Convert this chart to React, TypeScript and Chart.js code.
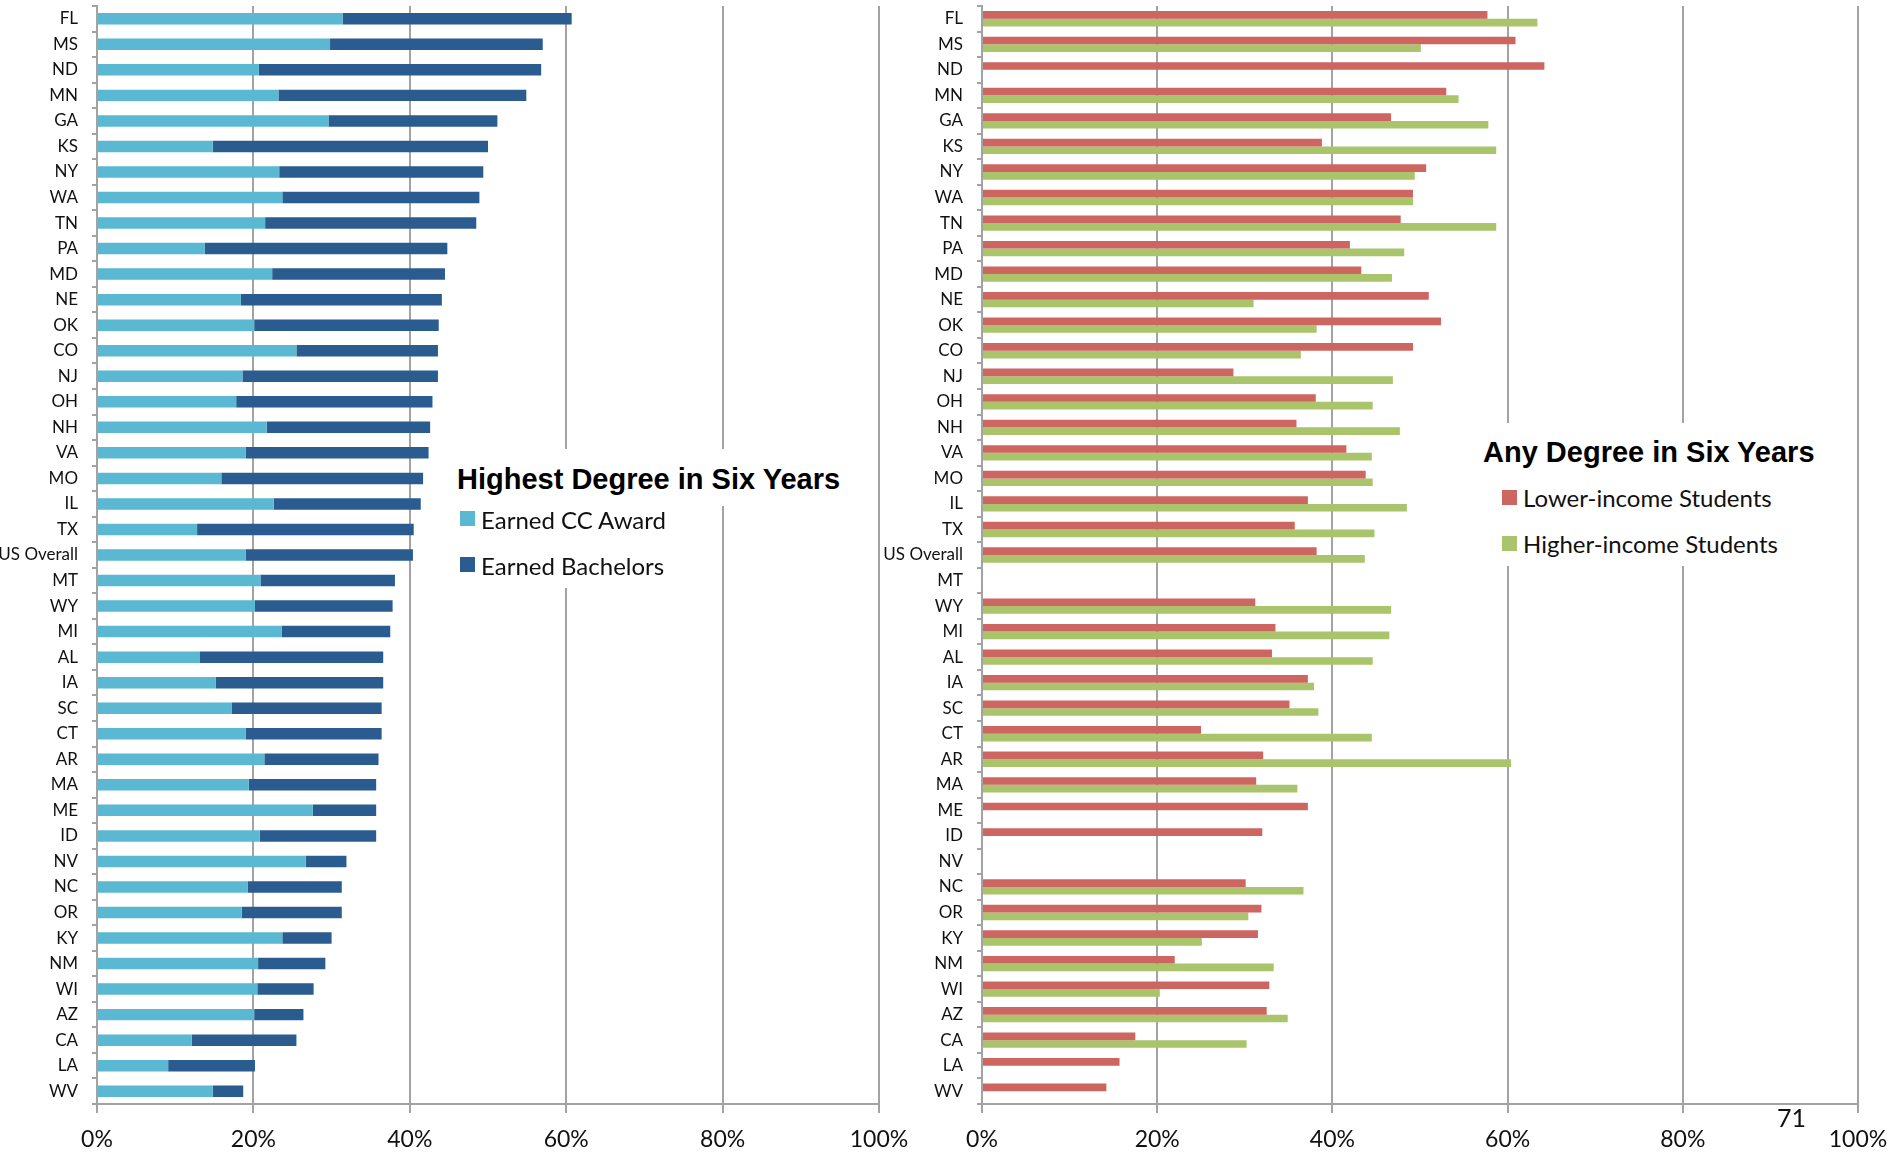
import React, { useEffect, useRef } from "react";
import { Chart, registerables } from "chart.js";

Chart.register(...registerables);

const states = ["FL","MS","ND","MN","GA","KS","NY","WA","TN","PA","MD","NE","OK","CO","NJ","OH","NH","VA","MO","IL","TX","US Overall","MT","WY","MI","AL","IA","SC","CT","AR","MA","ME","ID","NV","NC","OR","KY","NM","WI","AZ","CA","LA","WV"];

const ccAward = [31.4,29.8,20.7,23.2,29.6,14.8,23.3,23.7,21.5,13.8,22.4,18.4,20.1,25.5,18.6,17.8,21.7,19.0,15.9,22.6,12.8,19.0,20.9,20.2,23.6,13.1,15.2,17.2,19.0,21.4,19.4,27.6,20.8,26.7,19.3,18.5,23.7,20.6,20.5,20.1,12.1,9.1,14.8];

const bachelors = [29.3,27.2,36.1,31.7,21.6,35.2,26.1,25.2,27.0,31.0,22.1,25.7,23.6,18.1,25.0,25.1,20.9,23.4,25.8,18.8,27.7,21.4,17.2,17.6,13.9,23.5,21.4,19.2,17.4,14.6,16.3,8.1,14.9,5.2,12.0,12.8,6.3,8.6,7.2,6.3,13.4,11.1,3.9];

const lowerIncome = [57.7,60.9,64.2,53.0,46.7,38.8,50.7,49.2,47.8,42.0,43.3,51.0,52.4,49.2,28.7,38.1,35.9,41.6,43.8,37.2,35.7,38.2,null,31.2,33.5,33.1,37.2,35.1,25.0,32.1,31.3,37.2,32.0,null,30.1,31.9,31.5,22.0,32.8,32.5,17.5,15.7,14.2];

const higherIncome = [63.4,50.1,null,54.4,57.8,58.7,49.4,49.2,58.7,48.2,46.8,31.0,38.2,36.4,46.9,44.6,47.7,44.5,44.6,48.5,44.8,43.7,null,46.7,46.5,44.6,37.9,38.4,44.5,60.4,36.0,null,null,null,36.7,30.4,25.1,33.3,20.3,34.9,30.2,null,null];

const xMin = 0;
const xMax = 100;
const xStep = 20;

const leftTitle = "Highest Degree in Six Years";
const leftSeries = ["Earned CC Award", "Earned Bachelors"];
const rightTitle = "Any Degree in Six Years";
const rightSeries = ["Lower-income Students", "Higher-income Students"];
const pageNumber = "71";

const COL_CC = "#5BB8D2";
const COL_BA = "#2A5C8F";
const COL_LO = "#CD6661";
const COL_HI = "#A9C46A";
const GRID = "#A3A3A3";

function baseOptions(yWidth: number, padRight: number, stacked: boolean) {
  return {
    indexAxis: "y" as const,
    responsive: false,
    animation: false as const,
    layout: { padding: { top: 6, right: padRight, left: 0, bottom: 0 } },
    plugins: { legend: { display: false }, tooltip: { enabled: false }, title: { display: false } },
    scales: {
      x: {
        type: "linear" as const,
        min: xMin,
        max: xMax,
        stacked,
        position: "bottom" as const,
        ticks: {
          stepSize: xStep,
          padding: 13,
          color: "#111",
          font: { family: "Lato", size: 23 },
          callback: (v: any) => v + "%",
        },
        grid: { color: GRID, lineWidth: 2, tickLength: 9, drawTicks: true },
        border: { display: true, color: GRID, width: 2 },
        afterFit: (s: any) => {
          s.height = 48;
          s.paddingLeft = 0;
          s.paddingRight = 0;
        },
      },
      y: {
        type: "category" as const,
        stacked,
        ticks: {
          padding: 14,
          color: "#111",
          autoSkip: false,
          font: { family: "Lato", size: 17 },
        },
        grid: { display: true, drawOnChartArea: false, drawTicks: true, tickLength: 5, offset: true, color: GRID, lineWidth: 2 },
        border: { display: true, color: GRID, width: 2 },
        afterFit: (s: any) => {
          s.width = yWidth;
          s.paddingTop = 0;
          s.paddingBottom = 0;
        },
      },
    },
  };
}

export default function App() {
  const leftRef = useRef<HTMLCanvasElement | null>(null);
  const rightRef = useRef<HTMLCanvasElement | null>(null);

  useEffect(() => {
    document.body.style.margin = "0";
    const left = new Chart(leftRef.current as HTMLCanvasElement, {
      type: "bar",
      data: {
        labels: states,
        datasets: [
          { label: leftSeries[0], data: ccAward, backgroundColor: COL_CC, borderWidth: 0, categoryPercentage: 1, barPercentage: 0.45 },
          { label: leftSeries[1], data: bachelors, backgroundColor: COL_BA, borderWidth: 0, categoryPercentage: 1, barPercentage: 0.45 },
        ],
      },
      options: baseOptions(97, 66, true) as any,
    });
    const right = new Chart(rightRef.current as HTMLCanvasElement, {
      type: "bar",
      data: {
        labels: states,
        datasets: [
          { label: rightSeries[0], data: lowerIncome as any, backgroundColor: COL_LO, borderWidth: 0, categoryPercentage: 0.6, barPercentage: 1 },
          { label: rightSeries[1], data: higherIncome as any, backgroundColor: COL_HI, borderWidth: 0, categoryPercentage: 0.6, barPercentage: 1 },
        ],
      },
      options: baseOptions(112, 33, false) as any,
    });
    return () => {
      left.destroy();
      right.destroy();
    };
  }, []);

  const abs = (l: number, t: number, extra: any = {}) => ({ position: "absolute" as const, left: l, top: t, ...extra });
  const titleFont = { fontFamily: '"Liberation Sans", Arial, sans-serif', fontWeight: 700, fontSize: 29, lineHeight: "29px", whiteSpace: "nowrap" as const, color: "#000" };
  const legFont = { fontFamily: "Lato, sans-serif", fontSize: 24, lineHeight: "24px", whiteSpace: "nowrap" as const, color: "#111" };

  return (
    <div style={{ position: "relative", width: 1891, height: 1152, overflow: "hidden", background: "#fff" }}>
      <canvas ref={leftRef} width={945} height={1152} style={abs(0, 0, { width: 945, height: 1152 })} />
      <canvas ref={rightRef} width={1021} height={1152} style={abs(870, 0, { width: 1021, height: 1152 })} />

      <div style={abs(455, 449, { width: 392, height: 57, background: "#fff" })} />
      <div style={abs(455, 506, { width: 250, height: 82, background: "#fff" })} />
      <div style={abs(457, 464.5, titleFont)}>{leftTitle}</div>
      <div style={abs(460, 511, { width: 15, height: 15, background: COL_CC })} />
      <div style={abs(481, 507.7, legFont)}>{leftSeries[0]}</div>
      <div style={abs(460, 557, { width: 15, height: 15, background: COL_BA })} />
      <div style={abs(481, 553.7, legFont)}>{leftSeries[1]}</div>

      <div style={abs(1476, 423, { width: 350, height: 143, background: "#fff" })} />
      <div style={abs(1483, 437.5, titleFont)}>{rightTitle}</div>
      <div style={abs(1502, 490, { width: 15, height: 15, background: COL_LO })} />
      <div style={abs(1523, 486.4, legFont)}>{rightSeries[0]}</div>
      <div style={abs(1502, 536, { width: 15, height: 15, background: COL_HI })} />
      <div style={abs(1523, 531.7, legFont)}>{rightSeries[1]}</div>

      <div style={abs(1777, 1105, { fontFamily: "Lato, sans-serif", fontSize: 25, lineHeight: "25px", color: "#111" })}>{pageNumber}</div>
    </div>
  );
}
